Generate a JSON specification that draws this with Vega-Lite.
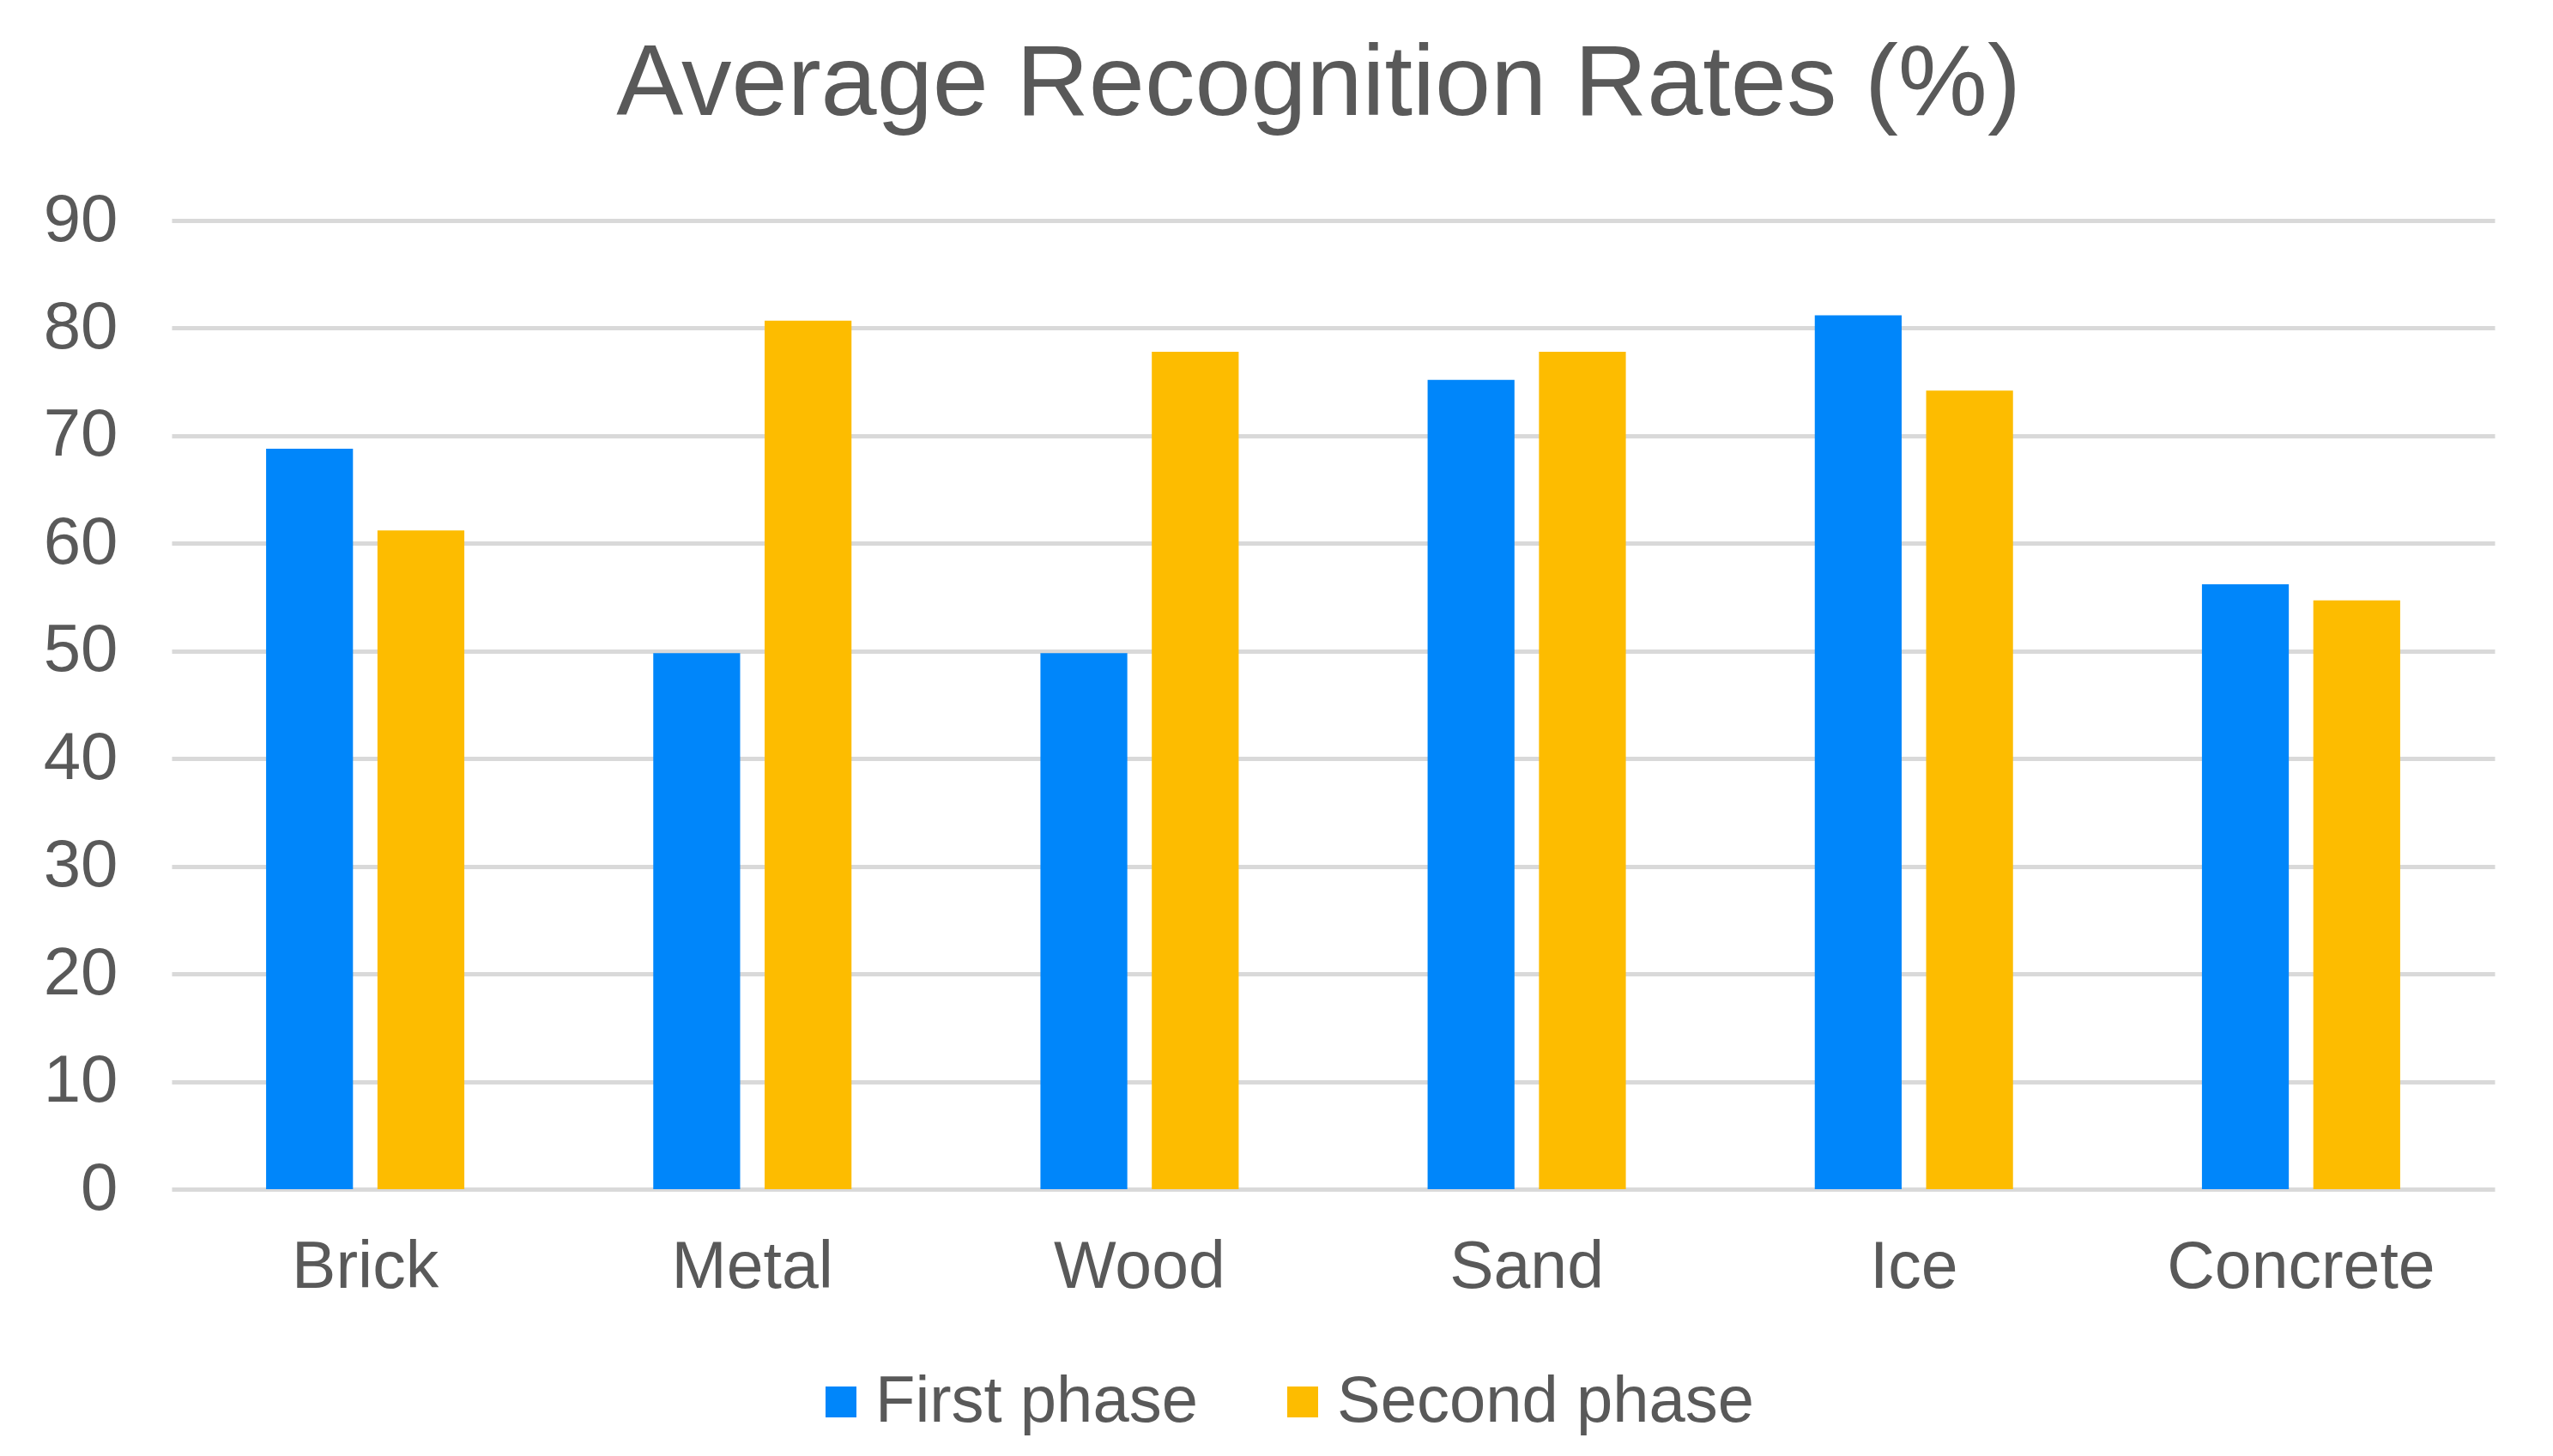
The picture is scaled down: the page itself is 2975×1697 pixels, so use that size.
{
  "$schema": "https://vega.github.io/schema/vega-lite/v6.json",
  "autosize": {"type": "none"},
  "width": 2707,
  "height": 1129,
  "padding": {"left": 200, "top": 257, "right": 68, "bottom": 311},
  "background": "white",
  "title": {
    "text": "Average Recognition Rates (%)",
    "frame": "group",
    "anchor": "middle",
    "baseline": "alphabetic",
    "offset": -33,
    "dx": -17,
    "fontSize": 117,
    "font": "Liberation Sans",
    "fontWeight": "normal",
    "color": "#595959"
  },
  "data": {
    "values": [
      {"material": "Brick", "phase": "First phase", "rate": 68.8},
      {"material": "Brick", "phase": "Second phase", "rate": 61.2},
      {"material": "Metal", "phase": "First phase", "rate": 49.8},
      {"material": "Metal", "phase": "Second phase", "rate": 80.7},
      {"material": "Wood", "phase": "First phase", "rate": 49.8},
      {"material": "Wood", "phase": "Second phase", "rate": 77.8},
      {"material": "Sand", "phase": "First phase", "rate": 75.2},
      {"material": "Sand", "phase": "Second phase", "rate": 77.8},
      {"material": "Ice", "phase": "First phase", "rate": 81.2},
      {"material": "Ice", "phase": "Second phase", "rate": 74.2},
      {"material": "Concrete", "phase": "First phase", "rate": 56.2},
      {"material": "Concrete", "phase": "Second phase", "rate": 54.7}
    ]
  },
  "mark": {"type": "bar"},
  "encoding": {
    "x": {
      "field": "material",
      "type": "nominal",
      "sort": ["Brick", "Metal", "Wood", "Sand", "Ice", "Concrete"],
      "scale": {"paddingInner": 0.488, "paddingOuter": 0.244},
      "axis": {
        "title": null,
        "labelAngle": 0,
        "ticks": false,
        "domain": false,
        "labelFontSize": 77,
        "labelFont": "Liberation Sans",
        "labelColor": "#595959",
        "labelPadding": 53,
        "labelLimit": 0
      }
    },
    "xOffset": {
      "field": "phase",
      "type": "nominal",
      "sort": ["First phase", "Second phase"],
      "scale": {"paddingInner": 0.22, "paddingOuter": 0}
    },
    "y": {
      "field": "rate",
      "type": "quantitative",
      "scale": {"domain": [0, 90], "nice": false},
      "axis": {
        "title": null,
        "values": [0, 10, 20, 30, 40, 50, 60, 70, 80, 90],
        "ticks": false,
        "domain": false,
        "grid": true,
        "gridColor": "#D9D9D9",
        "gridWidth": 5,
        "labelFontSize": 78,
        "labelFont": "Liberation Sans",
        "labelColor": "#595959",
        "labelPadding": 63
      }
    },
    "color": {
      "field": "phase",
      "type": "nominal",
      "sort": ["First phase", "Second phase"],
      "scale": {"domain": ["First phase", "Second phase"], "range": ["#0086FA", "#FDBC00"]},
      "legend": {
        "title": null,
        "orient": "none",
        "direction": "horizontal",
        "legendX": 742,
        "legendY": 1339,
        "padding": 0,
        "symbolType": "square",
        "symbolSize": 1296,
        "symbolStrokeWidth": 0,
        "labelFontSize": 76,
        "labelFont": "Liberation Sans",
        "labelColor": "#595959",
        "labelOffset": 2,
        "labelLimit": 0,
        "columnPadding": 84
      }
    }
  },
  "config": {
    "view": {"stroke": null}
  }
}
